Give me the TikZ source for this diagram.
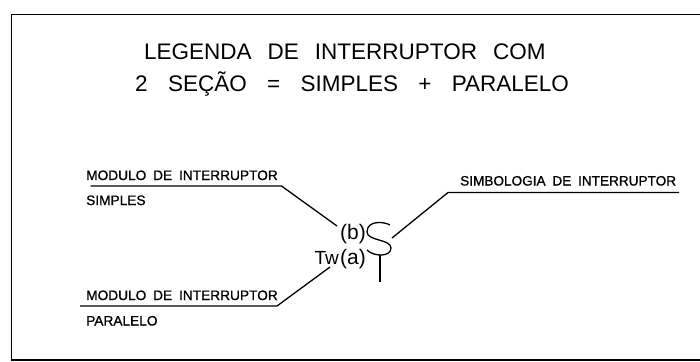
\documentclass[tikz,border=0pt]{standalone}
\usepackage{fontspec}
\setmainfont{Liberation Sans}
\newfontfamily\labfont[WordSpace=1.8,FakeBold=1]{Liberation Sans}
\newfontfamily\symfont{Liberation Sans}
\newcommand\gapone{\spaceskip 16pt\relax}
\newcommand\gaptwo{\spaceskip 20.3pt\relax}
\tikzset{
  frameline/.style={draw=black,line width=1.6pt},
  leader/.style={draw=black,line width=1.3pt,line join=round},
  titletext/.style={inner sep=0pt,anchor=base west,font=\fontsize{22.5}{23}\selectfont},
  labeltext/.style={inner sep=0pt,anchor=base west,font=\labfont\fontsize{13.7}{14}\selectfont},
  symtext/.style={inner sep=0pt,anchor=base,font=\symfont\fontsize{21}{21}\selectfont}
}
\begin{document}
\begin{tikzpicture}[x=1pt,y=-1pt]
\useasboundingbox (0,0) rectangle (700,361);
\fill[white] (0,0) rectangle (700,361);
\draw[frameline] (11.5,14.5) rectangle (704,360);
\node[titletext] (t1) at (144,59.5) {\gapone LEGENDA DE INTERRUPTOR COM};
\node[titletext] (t2) at (135,91.5) {\gaptwo 2 SEÇÃO = SIMPLES + PARALELO};
\node[labeltext] (m1) at (86,180) {MODULO DE INTERRUPTOR};
\node[labeltext] (s1) at (86,205) {SIMPLES};
\node[labeltext] (m2) at (86,300) {MODULO DE INTERRUPTOR};
\node[labeltext] (p1) at (86,325.5) {PARALELO};
\node[labeltext,font=\labfont\fontsize{13.6}{14}\selectfont] (sim) at (460,185.5) {SIMBOLOGIA DE INTERRUPTOR};
\node[symtext] (b) at (353,239) {(b)};
\node[symtext] (a) at (353,264) {(a)};
\node[symtext,anchor=base east,font=\symfont\fontsize{19}{19}\selectfont] (tw) at (339,264) {Tw};
\coordinate (l1a) at (90.5,186); \coordinate (l1b) at (281.5,186); \coordinate (l1c) at (337,226);
\coordinate (l2a) at (80,306); \coordinate (l2b) at (277,306); \coordinate (l2c) at (330,267);
\coordinate (l3a) at (392,238); \coordinate (l3b) at (448,192.5); \coordinate (l3c) at (679,192.5);
\draw[leader] (l1a) -- (l1b) -- (l1c);
\draw[leader] (l2a) -- (l2b) -- (l2c);
\draw[leader] (l3a) -- (l3b) -- (l3c);
\draw[leader] (390,225) .. controls (384,221.5) and (367,220) .. (367,232) .. controls (367,241) and (391,239) .. (391,248) .. controls (391,257) and (374,257) .. (367,250);
\draw[leader] (380,255) -- (380,282);
\end{tikzpicture}
\end{document}
